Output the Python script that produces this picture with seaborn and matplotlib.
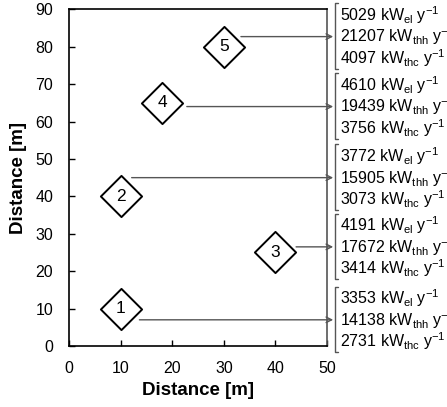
import pandas as pd
import matplotlib
matplotlib.use("Agg")
import matplotlib.pyplot as plt
import seaborn as sns

# Site positions and labels
site_x = [10, 10, 40, 18, 30]
site_y = [10, 40, 25, 65, 80]
site_label = ["1", "2", "3", "4", "5"]

# Arrows from each site to its energy block
arrow_x0 = [13.6, 12.1, 44.0, 22.8, 33.3]
arrow_y = [7, 45, 26.5, 64, 82.7]

# Energy figures per site
power_el = [3353, 3772, 4191, 4610, 5029]
heat_thh = [14138, 15905, 17672, 19439, 21207]
cool_thc = [2731, 3073, 3414, 3756, 4097]

sns.set_style("ticks", {"text.color": "black", "axes.labelcolor": "black",
                        "xtick.color": "black", "ytick.color": "black",
                        "axes.edgecolor": "black"})
plt.rcParams["font.family"] = ["Liberation Sans", "DejaVu Sans"]
plt.rcParams["xtick.direction"] = "in"
plt.rcParams["ytick.direction"] = "in"

df = pd.DataFrame({"x": site_x, "y": site_y, "label": site_label})

fig = plt.figure(figsize=(4.47, 4.07), dpi=100)
ax = fig.add_axes([69.3 / 447, 1 - 346 / 407, (327 - 69.3) / 447, (346 - 9.3) / 407])

sns.scatterplot(data=df, x="x", y="y", marker="D", s=440, color="white",
                edgecolor="black", linewidth=1.4, ax=ax, zorder=3, clip_on=False)
for x, y, lab in zip(site_x, site_y, site_label):
    ax.text(x, y, lab, ha="center", va="center", fontsize=12.5, zorder=4)

for i in range(len(arrow_y)):
    y = arrow_y[i]
    ax.annotate("", xy=(51.2, y), xytext=(arrow_x0[i], y),
                arrowprops=dict(arrowstyle="->", color="#555555", lw=1.0,
                                shrinkA=0, shrinkB=0),
                annotation_clip=False)
    # bracket
    top, bot = y + 8.9, y - 8.6
    ax.plot([52.2, 51.6, 51.6, 52.2], [top, top, bot, bot], color="#555555",
            lw=1.0, clip_on=False)
    block = "\n".join([
        r"%d kW$_\mathregular{el}$ y$^\mathregular{-1}$" % power_el[i],
        r"%d kW$_\mathregular{thh}$ y$^\mathregular{-1}$" % heat_thh[i],
        r"%d kW$_\mathregular{thc}$ y$^\mathregular{-1}$" % cool_thc[i],
    ])
    ax.text(52.6, y, block, ha="left", va="center", fontsize=11.5,
            linespacing=1.0, clip_on=False)

ax.set_xlim(0, 50)
ax.set_ylim(0, 90)
ax.set_xticks([0, 10, 20, 30, 40, 50])
ax.set_yticks(range(0, 100, 10))
ax.tick_params(labelsize=11.5, length=4, width=1)
ax.tick_params(axis="x", pad=11)
ax.tick_params(axis="y", pad=11.5)
ax.set_xlabel("Distance [m]", fontsize=13.5, fontweight="bold", labelpad=4)
ax.set_ylabel("Distance [m]", fontsize=13.5, fontweight="bold", labelpad=6)
for s in ax.spines.values():
    s.set_linewidth(1.2)
    s.set_visible(True)
ax.spines["right"].set_color("#555555")

fig.savefig("out.png", dpi=100)
